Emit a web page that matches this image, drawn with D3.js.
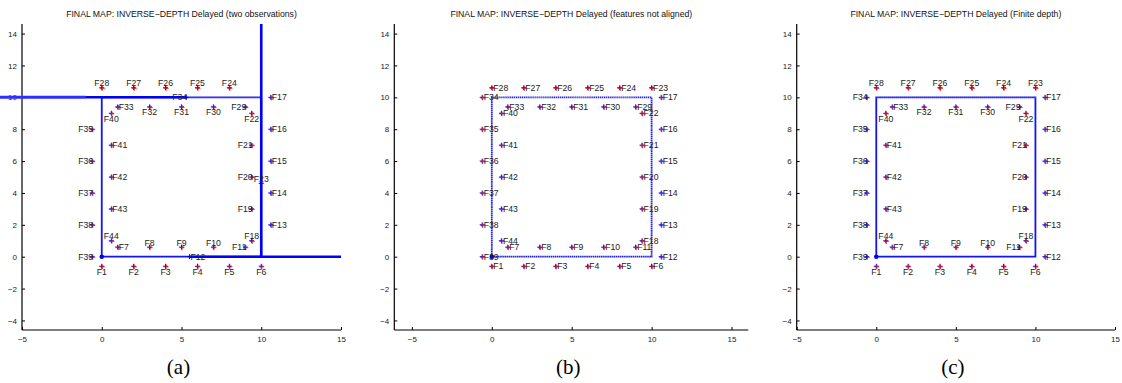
<!DOCTYPE html>
<html>
<head>
<meta charset="utf-8">
<script src="https://cdn.jsdelivr.net/npm/d3@7"></script>
<style>
  body { margin: 0; background: #fff; }
  svg { display: block; }
</style>
</head>
<body>
<svg id="chart" width="1122" height="383"></svg>
<script>
// Landmark ground truth (F1..F44)
const featureNames = ["F1","F2","F3","F4","F5","F6","F7","F8","F9","F10","F11","F12",
  "F13","F14","F15","F16","F17","F18","F19","F20","F21","F22","F23",
  "F24","F25","F26","F27","F28","F29","F30","F31","F32","F33","F34",
  "F35","F36","F37","F38","F39","F40","F41","F42","F43","F44"]
const featureX = [0, 2, 4, 6, 8, 10, 1, 3, 5, 7, 9, 10.6,
  10.6, 10.6, 10.6, 10.6, 10.6, 9.4, 9.4, 9.4, 9.4, 9.4, 10,
  8, 6, 4, 2, 0, 9, 7, 5, 3, 1, -0.6,
  -0.6, -0.6, -0.6, -0.6, -0.6, 0.6, 0.6, 0.6, 0.6, 0.6]
const featureY = [-0.6, -0.6, -0.6, -0.6, -0.6, -0.6, 0.6, 0.6, 0.6, 0.6, 0.6, 0,
  2, 4, 6, 8, 10, 1, 3, 5, 7, 9, 10.6,
  10.6, 10.6, 10.6, 10.6, 10.6, 9.4, 9.4, 9.4, 9.4, 9.4, 10,
  8, 6, 4, 2, 0, 9, 7, 5, 3, 1]
// where each label sits in panels (a) and (c): r, l, a(bove), b(elow)
const labelSide = ["b","b","b","b","b","b","r","a","a","a","l","r",
  "r","r","r","r","r","a","l","l","l","b","a",
  "a","a","a","a","a","l","b","b","b","r","l",
  "l","l","l","l","l","b","r","r","r","a"]

// badly estimated features in (a): estimated position
const badNamesA = ["F12", "F23", "F34"]
const badXA = [5.5, 10, 5.3]
const badYA = [0, 4.6, 10]

// very elongated uncertainty of those features in (a)
const bandsA = [
  [[-6.5, 10], [5.3, 10]],
  [[10, 0], [10, 14.6]],
  [[5.5, 0], [15, 0]]
]

// camera trajectory
const trajX = [0, 10, 10, 0, 0]
const trajY = [0, 0, 10, 10, 0]

const titles = [
  "FINAL MAP: INVERSE\u2212DEPTH Delayed (two observations)",
  "FINAL MAP: INVERSE\u2212DEPTH Delayed (features not aligned)",
  "FINAL MAP: INVERSE\u2212DEPTH Delayed (Finite depth)"
]
const tags = ["(a)", "(b)", "(c)"]
const xTicks = [-5, 0, 5, 10, 15]
const yTicks = [-4, -2, 0, 2, 4, 6, 8, 10, 12, 14]

const panels = [
  { left: 22, right: 341, xDomain: [-5, 15], allRight: false, bad: true },
  { left: 394.3, right: 748.3, xDomain: [-6.1, 16.05], allRight: true, bad: false },
  { left: 796.7, right: 1115, xDomain: [-5, 15], allRight: false, bad: false }
]
const plotTop = 24, plotBottom = 330
const yDomain = [-4.6, 14.6]

const svg = d3.select("#chart")
const font = "'Liberation Sans', Arial, Helvetica, sans-serif"

panels.forEach((p, pi) => {
  const x = d3.scaleLinear().domain(p.xDomain).range([p.left, p.right])
  const y = d3.scaleLinear().domain(yDomain).range([plotBottom, plotTop])
  const g = svg.append("g")

  // title
  g.append("text")
    .attr("x", (p.left + p.right) / 2)
    .attr("y", 17)
    .attr("text-anchor", "middle")
    .attr("font-family", font)
    .attr("font-size", "8.7px")
    .attr("fill", "#111")
    .text(titles[pi])

  // axes (box off, ticks inward)
  const xAxis = d3.axisBottom(x).tickValues(xTicks).tickSizeInner(-3).tickSizeOuter(0).tickPadding(6)
  const yAxis = d3.axisLeft(y).tickValues(yTicks).tickSizeInner(-3).tickSizeOuter(0).tickPadding(5)

  const gx = g.append("g").attr("transform", `translate(0,${plotBottom})`).call(xAxis)
  const gy = g.append("g").attr("transform", `translate(${p.left},0)`).call(yAxis)
  for (const ax of [gx, gy]) {
    ax.select(".domain").attr("stroke", "#000").attr("stroke-width", 1.2)
    ax.selectAll(".tick line").attr("stroke", "#000")
    ax.selectAll(".tick text").attr("font-family", font).attr("font-size", "8px").attr("fill", "#222")
  }
  gy.select(".domain").attr("d", `M0,${plotBottom}V${plotTop}`)
  gx.select(".domain").attr("d", `M${p.left},0H${p.right}`)

  // trajectory: solid sides, dotted top edge (as plotted from many poses)
  const line = d3.line().x(d => x(d[0])).y(d => y(d[1]))
  const traj = trajX.map((v, i) => [v, trajY[i]])
  g.append("path")
    .attr("d", line(traj))
    .attr("fill", "none")
    .attr("stroke", pi === 1 ? "#2222d8" : "#1414ee")
    .attr("stroke-width", 1.8)
    .attr("stroke-dasharray", pi === 1 ? "1.6,0.5" : null)
  g.append("path")
    .attr("d", line(traj.slice(2, 4)))
    .attr("fill", "none")
    .attr("stroke", "#fff")
    .attr("stroke-width", 1.8)
    .attr("stroke-dasharray", "0.6,1.4")
    .attr("stroke-opacity", 0.5)

  // uncertainty bands
  if (p.bad) {
    bandsA.forEach(b => {
      g.append("path")
        .attr("d", line(b))
        .attr("stroke", "#0000ff")
        .attr("stroke-width", 2.6)
        .attr("fill", "none")
    })
    // wider faint part of the F34 ellipse on the far left
    g.append("path")
      .attr("d", line([[-6.5, 10], [-1, 10]]))
      .attr("stroke", "#4d4dff")
      .attr("stroke-opacity", 0.6)
      .attr("stroke-width", 3.6)
  }

  // origin dot
  g.append("circle")
    .attr("cx", x(0)).attr("cy", y(0)).attr("r", 2.3)
    .attr("fill", "#0000ff")

  // features
  const feats = featureNames.map((name, i) => {
    let ex = featureX[i], ey = featureY[i]
    const bi = badNamesA.indexOf(name)
    if (p.bad && bi >= 0) { ex = badXA[bi]; ey = badYA[bi] }
    return { name, tx: featureX[i], ty: featureY[i], ex, ey, side: p.allRight ? "r" : labelSide[i] }
  })

  const plus = (cx, cy) => `M${cx - 2.5},${cy}H${cx + 2.5}M${cx},${cy - 2.5}V${cy + 2.5}`

  // estimates (blue)
  g.append("path")
    .attr("d", feats.map(f => plus(x(f.ex), y(f.ey))).join(""))
    .attr("stroke", "#0000ff")
    .attr("stroke-width", 1)
    .attr("fill", "none")

  // ground truth (red), only where not displaced
  g.append("path")
    .attr("d", feats.filter(f => f.ex === f.tx && f.ey === f.ty)
      .map(f => plus(x(f.tx) + 0.6, y(f.ty) + 0.6)).join(""))
    .attr("stroke", "#e01010")
    .attr("stroke-width", 0.8)
    .attr("fill", "none")

  g.selectAll(".flabel")
    .data(feats)
    .join("text")
      .attr("class", "flabel")
      .attr("font-family", font)
      .attr("font-size", "8.7px")
      .attr("fill", "#222")
      .attr("text-anchor", d => d.side === "r" ? "start" : d.side === "l" ? "end" : "middle")
      .attr("x", d => {
        const px = x(d.ex)
        if (d.side === "r") return px + (p.allRight ? 1.5 : 1)
        if (d.side === "l") return px + 1
        return px
      })
      .attr("y", d => {
        const py = y(d.ey)
        if (d.side === "a") return py - 1.5
        if (d.side === "b") return py + 8.5
        return py + 3
      })
      .text(d => d.name)

  // panel tag
  g.append("text")
    .attr("x", (p.left + p.right) / 2 - 3)
    .attr("y", 374)
    .attr("text-anchor", "middle")
    .attr("font-family", "'Liberation Serif', 'Times New Roman', serif")
    .attr("font-size", "21px")
    .attr("fill", "#000")
    .text(tags[pi])
})
</script>
</body>
</html>
